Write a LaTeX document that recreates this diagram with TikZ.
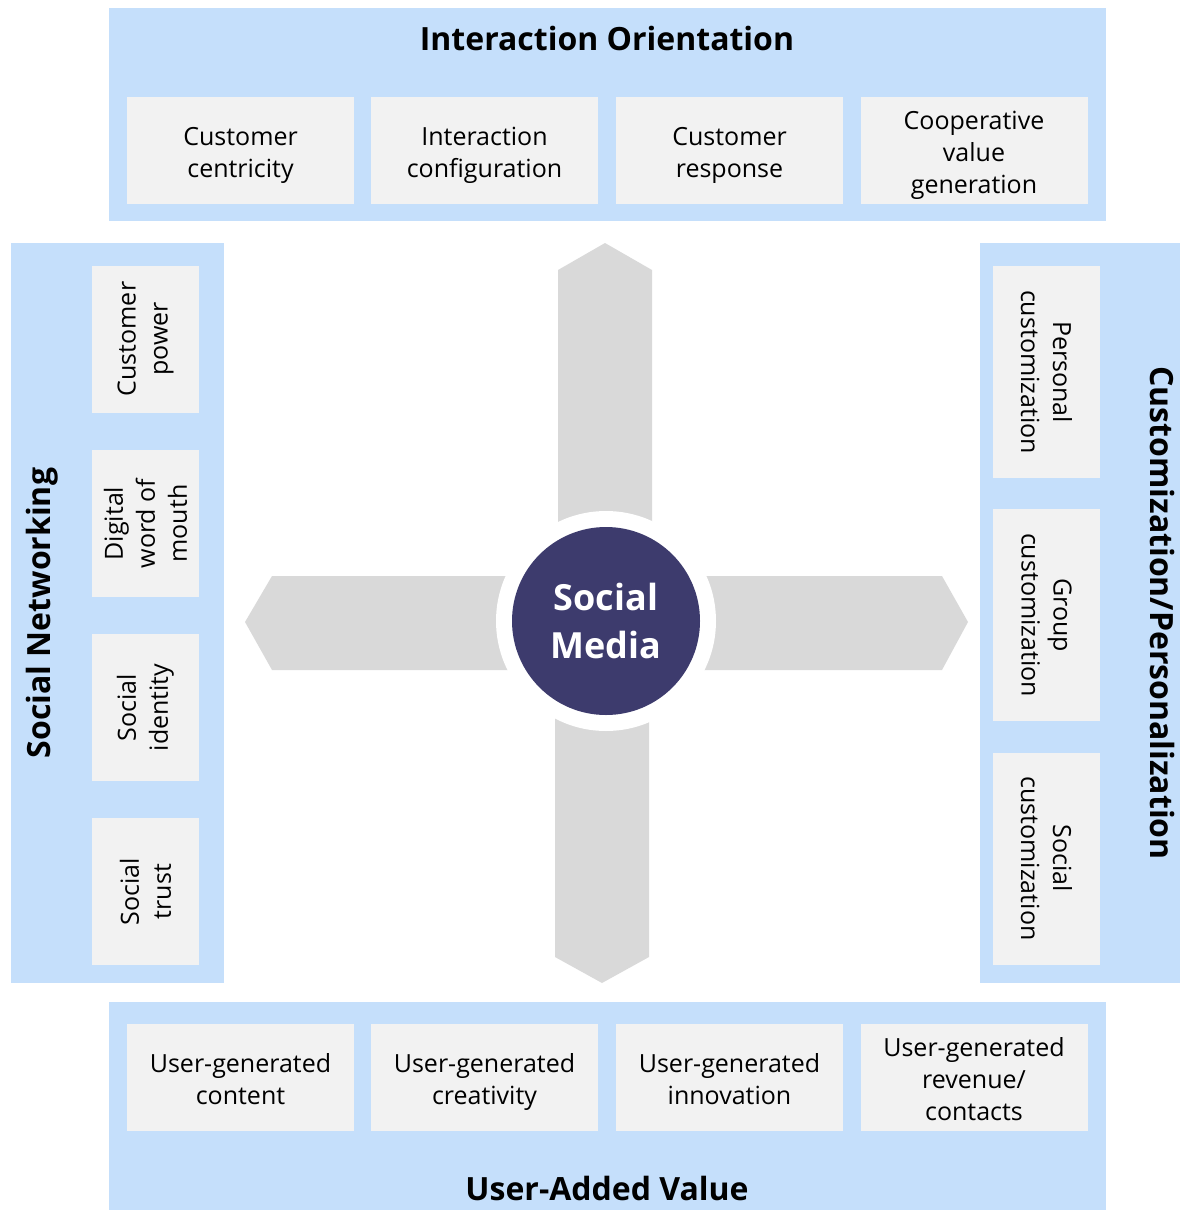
\documentclass[tikz,border=0pt]{standalone}
\usepackage{fontspec}
\setmainfont{Open Sans}
\definecolor{panelblue}{HTML}{C5DFFB}
\definecolor{boxgray}{HTML}{F2F2F2}
\definecolor{arrowgray}{HTML}{D9D9D9}
\definecolor{hubblue}{HTML}{3D3B6D}
\tikzset{
  panel/.style={fill=panelblue, draw=none, inner sep=0pt},
  itembox/.style={fill=boxgray, draw=none, align=center, inner sep=0pt,
     font=\fontsize{25}{32}\selectfont, text=black},
  hitem/.style={itembox, minimum width=227pt, minimum height=107pt},
  litem/.style={itembox, rotate=90, minimum width=147pt, minimum height=107pt},
  ritem/.style={itembox, rotate=-90, minimum width=212pt, minimum height=107pt},
  ptitle/.style={font=\fontsize{32}{36}\selectfont\bfseries, text=black, inner sep=0pt},
  bigarrow/.style={fill=arrowgray, draw=none},
}
\newcommand{\hlabel}[1]{\raisebox{-5pt}[\height][\depth]{\begin{tabular}{@{}c@{}}#1\end{tabular}}}
\begin{document}
\begin{tikzpicture}[x=1pt,y=-1pt]
\useasboundingbox (0,0) rectangle (1180,1210);
% panels
\node[panel, minimum width=997pt, minimum height=213pt] (ptop) at (607.5,114.5) {};
\node[panel, minimum width=997pt, minimum height=208pt] (pbot) at (607.5,1106) {};
\node[panel, minimum width=213pt, minimum height=740pt] (pleft) at (117.5,613) {};
\node[panel, minimum width=200pt, minimum height=740pt] (pright) at (1080,613) {};
% titles
\node[ptitle] (ttop) at (607,38) {Interaction Orientation};
\node[ptitle] (tbot) at (607,1188) {User-Added Value};
\node[ptitle, rotate=90] (tleft) at (42,613) {Social Networking};
\node[ptitle, rotate=-90] (tright) at (1162,613) {Customization/Personalization};
% top items
\node[hitem] (t1) at (240.5,150.5) {\hlabel{Customer\\centricity}};
\node[hitem] (t2) at (484.5,150.5) {\hlabel{Interaction\\configuration}};
\node[hitem] (t3) at (729.5,150.5) {\hlabel{Customer\\response}};
\node[hitem] (t4) at (974,150.5) {\hlabel{Cooperative\\value\\generation}};
% bottom items
\node[hitem] (b1) at (240.5,1077.5) {\hlabel{User-generated\\content}};
\node[hitem] (b2) at (484.5,1077.5) {\hlabel{User-generated\\creativity}};
\node[hitem] (b3) at (729.5,1077.5) {\hlabel{User-generated\\innovation}};
\node[hitem] (b4) at (974,1077.5) {\hlabel{User-generated\\revenue/\\contacts}};
% left items
\node[litem] (l1) at (145.5,339) {Customer\\power};
\node[litem] (l2) at (145.5,523.5) {Digital\\word of\\mouth};
\node[litem] (l3) at (145.5,707.5) {Social\\identity};
\node[litem] (l4) at (145.5,891.5) {Social\\trust};
% right items
\node[ritem] (r1) at (1046.5,372) {Personal\\customization};
\node[ritem] (r2) at (1046.5,615) {Group\\customization};
\node[ritem] (r3) at (1046.5,858.5) {Social\\customization};
% arrows
\coordinate (hub) at (606,621);
\fill[bigarrow] (558,621) -- (558,270) -- (605,243) -- (652,270) -- (652,621) -- cycle;
\fill[bigarrow] (555,621) -- (555,957) -- (602,983) -- (649,957) -- (649,621) -- cycle;
\fill[bigarrow] (606,576) -- (272,576) -- (245,622) -- (272,670) -- (606,670) -- cycle;
\fill[bigarrow] (606,576) -- (942,576) -- (968,622) -- (942,670) -- (606,670) -- cycle;
% hub
\fill[white] (hub) circle (110);
\node[circle, fill=hubblue, minimum size=188pt, inner sep=0pt, align=center,
  text=white, font=\fontsize{36}{48}\selectfont\bfseries] (sm) at (hub) {Social\\Media};
\end{tikzpicture}
\end{document}
